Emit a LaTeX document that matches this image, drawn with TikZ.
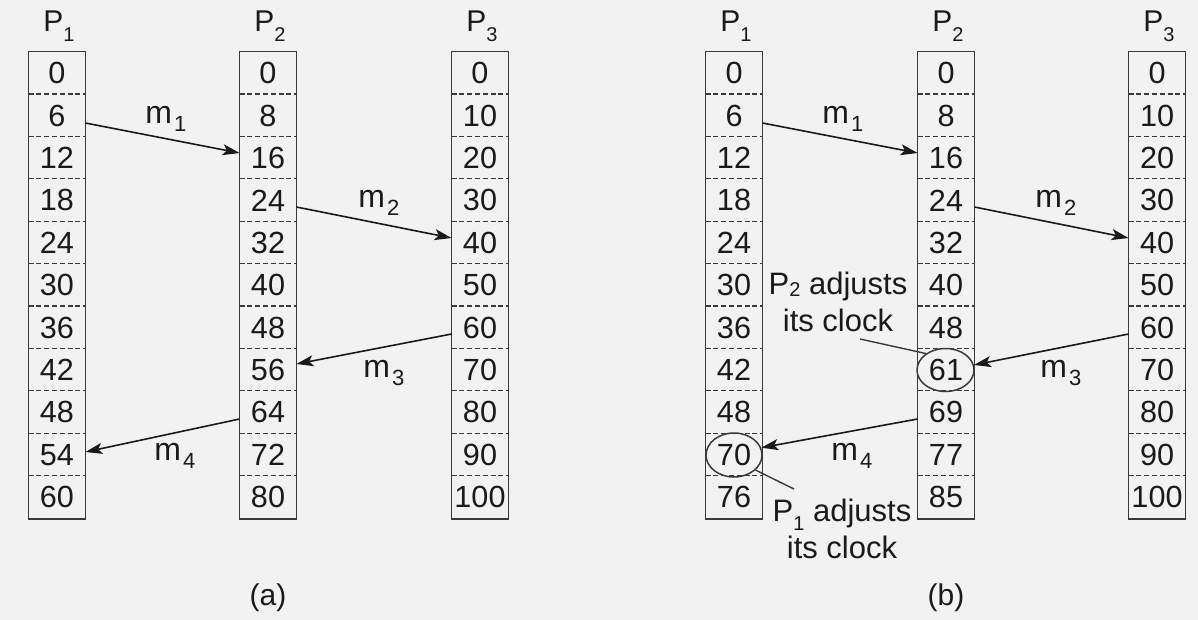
\documentclass[tikz,border=0pt]{standalone}
\usepackage{fontspec}
\setmainfont{Liberation Sans}
\usetikzlibrary{arrows.meta,calc,shapes.geometric}
\definecolor{bg}{HTML}{F2F2F2}
\definecolor{ln}{HTML}{3A3A3A}
\definecolor{tx}{HTML}{1A1A1A}
\newcommand\clockcol[3]{%
  \foreach \v [count=\i from 0] in {#3} {\node[cell] (#1-\i) at (#2,{52+42.4*(\i+0.5)}) {\v};}
  \draw[colbox] (#1-0.north west) rectangle (#1-10.south east);
  \foreach \i in {1,...,10} {\draw[sep] (#1-\i.north west) -- (#1-\i.north east);}
}
\newcommand\psb[2]{\raisebox{#1}{\fontsize{10}{12}\selectfont #2}}
\newcommand\msg[1]{m\kern1pt\raisebox{-4pt}{\fontsize{11}{14}\selectfont #1}}
\begin{document}
\begin{tikzpicture}[x=0.5pt,y=-0.5pt,
  cell/.style={minimum width=28pt, minimum height=21.2pt, inner sep=0pt,
    font=\fontsize{15.3}{16}\selectfont, text=tx},
  colbox/.style={draw=ln, line width=0.75pt},
  sep/.style={draw=ln, line width=0.6pt, dash pattern=on 2.5pt off 1.4pt},
  msgarrow/.style={draw=tx, line width=0.8pt, -{Stealth[length=8.5pt,width=5.5pt,inset=2pt]}},
  lbl/.style={font=\fontsize{15}{18}\selectfont, text=tx, inner sep=0pt},
  mlbl/.style={font=\fontsize{16}{18}\selectfont, text=tx, inner sep=0pt, anchor=base west},
  note/.style={font=\fontsize{15.5}{18.5}\selectfont, text=tx, inner sep=0pt, align=center},
  ring/.style={draw=ln, line width=0.75pt, ellipse, inner sep=0pt},
  pointer/.style={draw=ln, line width=0.7pt}
]
\fill[bg] (0,0) rectangle (1198,620);
\useasboundingbox (0,0) rectangle (1198,620);

% ---------- (a) ----------
\clockcol{a1}{57}{0,6,12,18,24,30,36,42,48,54,60}
\clockcol{a2}{268}{0,8,16,24,32,40,48,56,64,72,80}
\clockcol{a3}{480}{0,10,20,30,40,50,60,70,80,90,100}
\node[lbl] (ha1) at (59,26) {P\psb{-5pt}{1}};
\node[lbl] (ha2) at (270,26) {P\psb{-5pt}{2}};
\node[lbl] (ha3) at (482,26) {P\psb{-5pt}{3}};

\draw[msgarrow] ($(a1-1.east)+(0,7.4)$) -- ($(a2-2.west)+(0,-5)$);
\draw[msgarrow] ($(a2-3.east)+(0,6.6)$) -- ($(a3-4.west)+(0,-4.8)$);
\draw[msgarrow] ($(a3-6.west)+(0,6.4)$) -- ($(a2-7.east)+(0,-6)$);
\draw[msgarrow] ($(a2-8.west)+(0,6.6)$) -- ($(a1-9.east)+(0,-2.8)$);
\node[mlbl] (ma1) at (145,124) {\msg{1}};
\node[mlbl] (ma2) at (358,207) {\msg{2}};
\node[mlbl] (ma3) at (363,377) {\msg{3}};
\node[mlbl] (ma4) at (154,460) {\msg{4}};
\node[lbl] (capa) at (268,598) {(a)};

% ---------- (b) ----------
\clockcol{b1}{734}{0,6,12,18,24,30,36,42,48,70,76}
\clockcol{b2}{946}{0,8,16,24,32,40,48,61,69,77,85}
\clockcol{b3}{1157}{0,10,20,30,40,50,60,70,80,90,100}
\node[lbl] (hb1) at (736,26) {P\psb{-5pt}{1}};
\node[lbl] (hb2) at (948,26) {P\psb{-5pt}{2}};
\node[lbl] (hb3) at (1159,26) {P\psb{-5pt}{3}};

\node[ring, minimum width=28.5pt, minimum height=21.5pt] (e61) at (945.5,370) {};
\node[ring, minimum width=28pt, minimum height=22pt] (e70) at (734,455) {};

\draw[msgarrow] ($(b1-1.east)+(0,7.4)$) -- ($(b2-2.west)+(0,-5)$);
\draw[msgarrow] ($(b2-3.east)+(0,6.6)$) -- ($(b3-4.west)+(0,-4.8)$);
\draw[msgarrow] ($(b3-6.west)+(0,6.4)$) -- (e61.10);
\draw[msgarrow] ($(b2-8.west)+(0,6.6)$) -- (e70.15);
\node[mlbl] (mb1) at (822,124) {\msg{1}};
\node[mlbl] (mb2) at (1035,207) {\msg{2}};
\node[mlbl] (mb3) at (1040,377) {\msg{3}};
\node[mlbl] (mb4) at (831,460) {\msg{4}};

\node[note] (n2) at (838,302) {P\psb{-1pt}{2} adjusts\\its clock};
\node[note] (n1) at (842,529) {P\psb{-4.5pt}{1} adjusts\\its clock};
\coordinate (c2) at (860,339);
\coordinate (c1) at (794,489);
\draw[pointer] (c2) -- (e61.140);
\draw[pointer] (e70.-35) -- (c1);
\node[lbl] (capb) at (946,598) {(b)};
\end{tikzpicture}
\end{document}
